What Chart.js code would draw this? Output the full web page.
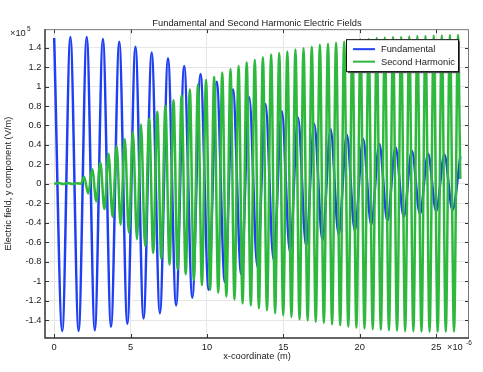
<!DOCTYPE html>
<html>
<head>
<meta charset="utf-8">
<script src="https://cdn.jsdelivr.net/npm/chart.js@4/dist/chart.umd.min.js"></script>
<style>
  html, body { margin: 0; padding: 0; background: #fff; }
  #wrap { width: 483px; height: 372px; }
</style>
</head>
<body>
<div id="wrap"><canvas id="fieldChart" width="483" height="372"></canvas></div>
<script>
// x positions in units of 1e-6 m, field in units of 1e5 V/m
const fundX = [0, 0.53, 1.06, 1.60, 2.13, 2.66, 3.19, 3.72, 4.26, 4.79, 5.32, 5.85, 6.38, 6.92, 7.45, 7.98,
  8.51, 9.04, 9.58, 10.11, 10.64, 11.17, 11.70, 12.24, 12.77, 13.30, 13.83, 14.36, 14.90, 15.43, 15.96,
  16.49, 17.02, 17.56, 18.09, 18.62, 19.15, 19.68, 20.22, 20.75, 21.28, 21.81, 22.34, 22.88, 23.41,
  23.94, 24.47, 25.00, 25.54, 26.07, 26.58];
const fundY = [1.50, -1.515, 1.51, -1.515, 1.51, -1.505, 1.49, -1.47, 1.46, -1.44, 1.41, -1.385, 1.35, -1.33,
  1.29, -1.25, 1.21, -1.17, 1.13, -1.09, 1.05, -1.01, 0.97, -0.93, 0.89, -0.855, 0.82, -0.78, 0.745, -0.70,
  0.68, -0.64, 0.615, -0.58, 0.56, -0.52, 0.505, -0.48, 0.46, -0.42, 0.41, -0.38, 0.375, -0.34, 0.34,
  -0.31, 0.31, -0.28, 0.30, -0.27, 0.28];

const harmX = [0, 0.3, 0.6, 0.9, 1.2, 1.5, 1.75, 1.96, 2.23, 2.49, 2.76, 3.02, 3.29, 3.56, 3.82, 4.09, 4.35,
  4.62, 4.89, 5.15, 5.42, 5.68, 5.95, 6.22, 6.48, 6.75, 7.01, 7.28, 7.55, 7.81, 8.08, 8.34, 8.61, 8.88,
  9.14, 9.41, 9.67, 9.94, 10.21, 10.47, 10.74, 11.00, 11.27, 11.54, 11.80, 12.07, 12.33, 12.60, 12.87,
  13.13, 13.40, 13.66, 13.93, 14.20, 14.46, 14.73, 14.99, 15.26, 15.53, 15.79, 16.06, 16.32, 16.59,
  16.86, 17.12, 17.39, 17.65, 17.92, 18.19, 18.45, 18.72, 18.98, 19.25, 19.52, 19.78, 20.05, 20.31,
  20.58, 20.85, 21.11, 21.38, 21.64, 21.91, 22.18, 22.44, 22.71, 22.97, 23.24, 23.51, 23.77, 24.04,
  24.30, 24.57, 24.84, 25.10, 25.37, 25.63, 25.90, 26.17, 26.43, 26.58];
const harmY = [0, 0.008, -0.002, 0.008, -0.002, 0.006, 0, 0.07, -0.10, 0.15, -0.18, 0.22, -0.26, 0.31, -0.34,
  0.39, -0.42, 0.46, -0.50, 0.53, -0.57, 0.61, -0.64, 0.67, -0.71, 0.74, -0.77, 0.80, -0.83, 0.86, -0.88,
  0.91, -0.93, 0.97, -0.99, 1.02, -1.04, 1.07, -1.09, 1.10, -1.12, 1.145, -1.16, 1.18, -1.19, 1.21,
  -1.23, 1.25, -1.25, 1.275, -1.28, 1.30, -1.30, 1.33, -1.33, 1.345, -1.35, 1.36, -1.37, 1.38, -1.395,
  1.395, -1.405, 1.41, -1.42, 1.43, -1.43, 1.44, -1.445, 1.45, -1.455, 1.46, -1.47, 1.47, -1.48, 1.485,
  -1.49, 1.49, -1.495, 1.50, -1.50, 1.505, -1.505, 1.51, -1.51, 1.51, -1.515, 1.515, -1.515, 1.52,
  -1.52, 1.52, -1.52, 1.525, -1.52, 1.525, -1.52, 1.53, -1.52, 1.53, 0.05];

const seriesLabels = ['Fundamental', 'Second Harmonic'];
const xTicks = [0, 5, 10, 15, 20, 25];
const yTicks = [-1.4, -1.2, -1, -0.8, -0.6, -0.4, -0.2, 0, 0.2, 0.4, 0.6, 0.8, 1, 1.2, 1.4];

const FONT = 'Liberation Sans, Arial, sans-serif';
const TXT = '#1a1a1a';

function toPoints(xs, ys) {
  return xs.map((x, i) => ({ x, y: ys[i] }));
}

// frame, inward tick marks, exponent notes and the boxed legend
const decorations = {
  id: 'decorations',
  afterDatasetsDraw(chart) {
    const { ctx, chartArea: a, scales } = chart;
    ctx.save();
    ctx.strokeStyle = '#333';
    ctx.lineWidth = 1;
    ctx.beginPath();
    scales.x.ticks.forEach(t => {
      const px = Math.round(scales.x.getPixelForValue(t.value)) + 0.5;
      ctx.moveTo(px, a.top); ctx.lineTo(px, a.top + 4);
      ctx.moveTo(px, a.bottom); ctx.lineTo(px, a.bottom - 4);
    });
    scales.y.ticks.forEach(t => {
      const py = Math.round(scales.y.getPixelForValue(t.value)) + 0.5;
      ctx.moveTo(a.left, py); ctx.lineTo(a.left + 4, py);
      ctx.moveTo(a.right, py); ctx.lineTo(a.right - 4, py);
    });
    ctx.stroke();

    ctx.strokeStyle = '#777';
    ctx.lineWidth = 1;
    ctx.beginPath();
    ctx.moveTo(a.left, a.top + 0.5); ctx.lineTo(a.right - 0.5, a.top + 0.5); ctx.lineTo(a.right - 0.5, a.bottom);
    ctx.stroke();
    ctx.strokeStyle = '#333';
    ctx.lineWidth = 1.5;
    ctx.beginPath();
    ctx.moveTo(a.left, a.top); ctx.lineTo(a.left, a.bottom); ctx.lineTo(a.right, a.bottom);
    ctx.stroke();
    ctx.restore();
  },
  afterDraw(chart) {
    const { ctx, chartArea: a } = chart;
    ctx.save();
    ctx.fillStyle = TXT;
    ctx.textBaseline = 'middle';
    ctx.textAlign = 'left';
    // y exponent
    ctx.font = '9.3px ' + FONT;
    ctx.fillText('\u00d710', 10, 33);
    ctx.font = '6.5px ' + FONT;
    ctx.fillText('5', 27, 29.5);
    // x exponent
    ctx.font = '9.3px ' + FONT;
    ctx.fillText('\u00d710', 447, 347);
    ctx.font = '6.5px ' + FONT;
    ctx.fillText('-6', 466, 343.5);

    // legend box
    const bx = a.right - 123, by = a.top + 10, bw = 112, bh = 32;
    ctx.fillStyle = '#555';
    ctx.fillRect(bx + 2, by + 2, bw, bh);
    ctx.fillStyle = '#fff';
    ctx.fillRect(bx, by, bw, bh);
    ctx.strokeStyle = '#111';
    ctx.lineWidth = 1;
    ctx.strokeRect(bx + 0.5, by + 0.5, bw, bh);
    ctx.font = '9.3px ' + FONT;
    chart.data.datasets.forEach((ds, i) => {
      const ry = by + 10 + i * 12.5;
      ctx.strokeStyle = ds.borderColor;
      ctx.lineWidth = 2;
      ctx.beginPath();
      ctx.moveTo(bx + 7, ry); ctx.lineTo(bx + 29, ry);
      ctx.stroke();
      ctx.fillStyle = TXT;
      ctx.fillText(ds.label, bx + 35, ry + 0.5);
    });
    ctx.restore();
  }
};

new Chart(document.getElementById('fieldChart').getContext('2d'), {
  type: 'line',
  data: {
    datasets: [{
      label: seriesLabels[0],
      data: toPoints(fundX, fundY),
      borderColor: '#1f3ff2',
      borderWidth: 2.5,
      pointRadius: 0,
      fill: false,
      cubicInterpolationMode: 'monotone',
      order: 1
    }, {
      label: seriesLabels[1],
      data: toPoints(harmX, harmY),
      borderColor: '#2fb83e',
      borderWidth: 2.5,
      pointRadius: 0,
      fill: false,
      cubicInterpolationMode: 'monotone',
      order: 0
    }]
  },
  options: {
    responsive: false,
    animation: false,
    events: [],
    layout: { padding: { left: 0, right: 14, top: 0, bottom: 0 } },
    plugins: {
      legend: { display: false },
      tooltip: { enabled: false },
      title: {
        display: true,
        fullSize: false,
        text: 'Fundamental and Second Harmonic Electric Fields',
        color: TXT,
        font: { family: FONT, size: 9.3, weight: 'normal' },
        padding: { top: 17.5, bottom: 0.5 }
      }
    },
    scales: {
      x: {
        type: 'linear',
        min: -0.6,
        max: 27.15,
        afterBuildTicks: scale => { scale.ticks = xTicks.map(v => ({ value: v })); },
        afterFit: scale => { scale.height = 34; },
        grid: { color: '#e6e6e6', drawTicks: false },
        border: { display: false },
        ticks: {
          color: TXT,
          padding: 3.5,
          maxRotation: 0,
          font: { family: FONT, size: 9.3 },
          callback: v => String(v)
        },
        title: {
          display: true,
          text: 'x-coordinate (m)',
          color: TXT,
          font: { family: FONT, size: 9.3 },
          padding: { top: 0, bottom: 10.4 }
        }
      },
      y: {
        type: 'linear',
        min: -1.585,
        max: 1.59,
        afterBuildTicks: scale => { scale.ticks = yTicks.map(v => ({ value: v })); },
        afterFit: scale => { scale.width = 45; },
        grid: { color: '#e6e6e6', drawTicks: false },
        border: { display: false },
        ticks: {
          color: TXT,
          padding: 3.5,
          font: { family: FONT, size: 9.3 },
          callback: v => String(v)
        },
        title: {
          display: true,
          text: 'Electric field, y component (V/m)',
          color: TXT,
          font: { family: FONT, size: 9.3 },
          padding: { top: 2.4, bottom: 0 }
        }
      }
    }
  },
  plugins: [decorations]
});
</script>
</body>
</html>
